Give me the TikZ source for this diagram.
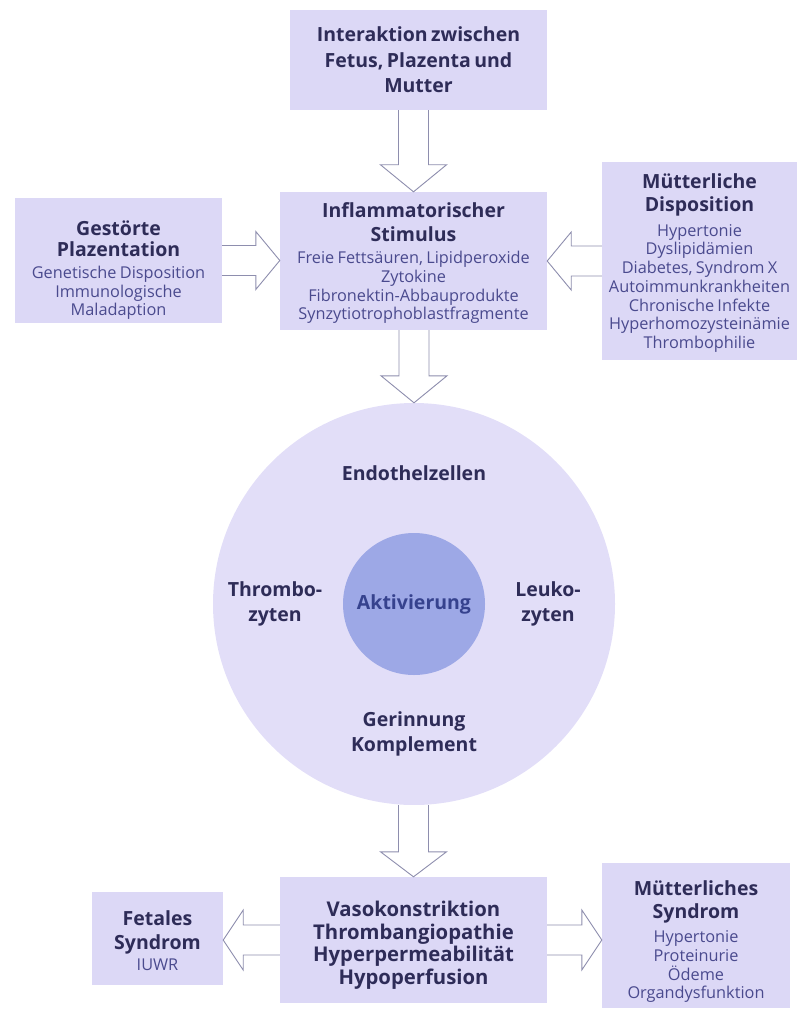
\documentclass[tikz,border=0pt]{standalone}
\usepackage{fontspec}
\setmainfont{Open Sans}
\usetikzlibrary{calc}
\definecolor{boxfill}{HTML}{DCD8F6}
\definecolor{circfill}{HTML}{E2DEF8}
\definecolor{innerfill}{HTML}{9DA8E6}
\definecolor{titlecol}{HTML}{2E2C58}
\definecolor{subcol}{HTML}{4A4A8E}
\definecolor{aktcol}{HTML}{36428E}
\definecolor{arrcol}{HTML}{8E8EAE}
\newcommand\tf[1][23]{\fontsize{19.5}{#1}\selectfont\bfseries\color{titlecol}}
\newcommand\subf{\fontsize{16.3}{18.7}\selectfont\mdseries\color{subcol}}
\newcommand\toppad[1]{\rule{0pt}{#1}}
\newcommand\gap[1]{\par\vspace{#1}}
% vertical block arrow: source, target, head length
\newcommand\varrow[3]{\draw[barrow] let \p1=(#1), \p2=(#2) in
  (\x2-15pt,\y1) -- (\x2-15pt,\y2+#3) -- (\x2-33pt,\y2+#3) -- (\x2,\y2)
  -- (\x2+33pt,\y2+#3) -- (\x2+15pt,\y2+#3) -- (\x2+15pt,\y1);}
% horizontal block arrow: source, target, signed head length, head half width
\newcommand\harrow[4]{\draw[barrow] let \p1=(#1), \p2=(#2), \n1={\x2-(#3)} in
  (\x1,\y1-15pt) -- (\n1,\y1-15pt) -- (\n1,\y1-#4) -- (\x2,\y1)
  -- (\n1,\y1+#4) -- (\n1,\y1+15pt) -- (\x1,\y1+15pt);}
\begin{document}
\begin{tikzpicture}[x=1pt,y=-1pt,
  box/.style={fill=boxfill, draw=none, inner sep=0pt, align=center, anchor=center},
  ctext/.style={align=center, inner sep=0pt, font=\fontsize{19.5}{24.5}\selectfont\bfseries, text=titlecol},
  barrow/.style={draw=arrcol, fill=white, line width=0.9pt, line join=miter}]
\useasboundingbox (0,0) rectangle (799,1011);
% boxes
\node[box, minimum width=257pt, minimum height=100pt, text width=257pt] (top) at (418.5,60)
  {\tf[25.5] Interaktion zwischen\\Fetus, Plazenta und\\Mutter\par};
\node[box, minimum width=207pt, minimum height=125pt, text width=207pt] (left) at (118.5,260.5)
  {\tf[21.5]\toppad{34pt}Gestörte\\Plazentation\gap{3pt}\subf Genetische Disposition\\Immunologische\\Maladaption\par};
\node[box, minimum width=267pt, minimum height=138pt, text width=267pt] (mid) at (413.5,261)
  {\tf[24]\toppad{19pt}Inflammatorischer\\Stimulus\gap{4pt}\subf Freie Fettsäuren, Lipidperoxide\\Zytokine\\Fibronektin-Abbauprodukte\\Synzytiotrophoblastfragmente\par};
\node[box, minimum width=195pt, minimum height=198pt, text width=195pt] (right) at (699.5,261)
  {\tf[23]\toppad{19pt}Mütterliche\\Disposition\gap{6pt}\subf Hypertonie\\Dyslipidämien\\Diabetes, Syndrom X\\Autoimmunkrankheiten\\Chronische Infekte\\Hyperhomozysteinämie\\Thrombophilie\par};
% circle
\node[circle, fill=circfill, minimum size=402pt, inner sep=0pt] (endo) at (414,604) {};
\node[circle, fill=innerfill, minimum size=142pt, inner sep=0pt, font=\fontsize{19.5}{22}\selectfont\bfseries, text=aktcol] (akt) at (414,604) {Aktivierung};
\node[ctext] (endolab) at (414,473) {Endothelzellen};
\node[ctext] (thrombo) at (275,604) {Thrombo-\\zyten};
\node[ctext] (leuko) at (548,604) {Leuko-\\zyten};
\node[ctext] (gerin) at (414,734) {Gerinnung\\Komplement};
% bottom
\node[box, minimum width=267pt, minimum height=126pt, text width=267pt] (bot) at (413.5,940)
  {\fontsize{20.3}{22.5}\selectfont\bfseries\color{titlecol}\toppad{26pt}Vasokonstriktion\\Thrombangiopathie\\Hyperpermeabilität\\Hypoperfusion\par};
\node[box, minimum width=131pt, minimum height=93pt, text width=131pt] (fetal) at (157.5,938.5)
  {\tf[24]\toppad{19pt}Fetales\\Syndrom\gap{3pt}\subf IUWR\par};
\node[box, minimum width=188pt, minimum height=145pt, text width=188pt] (msyn) at (696,935.5)
  {\tf[23]\toppad{27pt}Mütterliches\\Syndrom\gap{6pt}\subf Hypertonie\\Proteinurie\\Ödeme\\Organdysfunktion\par};
% arrows
\varrow{top.south}{mid.north}{27pt}
\varrow{mid.south}{endo.north}{27pt}
\varrow{endo.south}{bot.north}{25pt}
\harrow{left.east}{mid.west}{24pt}{29pt}
\harrow{right.west}{mid.east}{-24pt}{29pt}
\harrow{bot.west}{fetal.east}{-20pt}{30pt}
\harrow{bot.east}{msyn.west}{20pt}{30pt}
\end{tikzpicture}
\end{document}
